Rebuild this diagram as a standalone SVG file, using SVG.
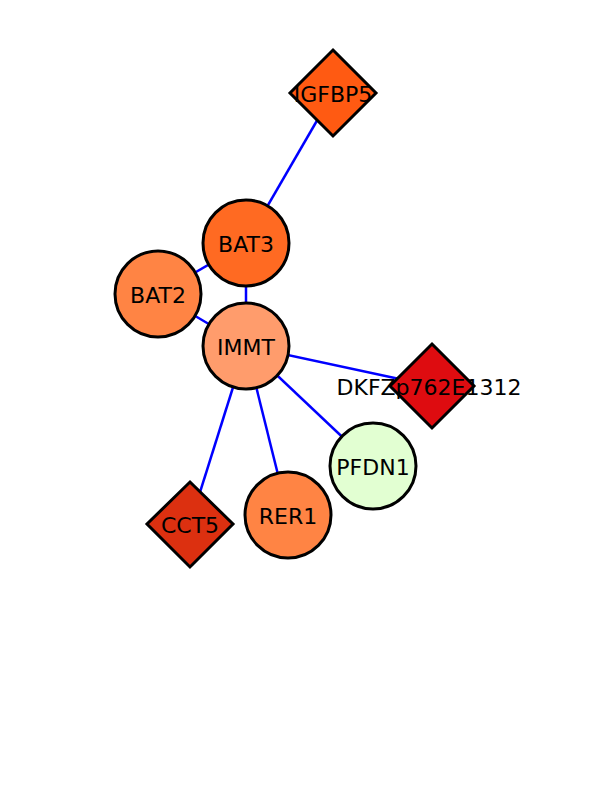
<svg xmlns="http://www.w3.org/2000/svg" width="612" height="792" viewBox="0 0 612 792">
<style>
.e{stroke:#0000FF;stroke-width:2.5;fill:none}
.n{stroke:#000;stroke-width:3}
.t{font-family:"DejaVu Sans",sans-serif;font-size:22px;fill:#000;text-anchor:middle}
</style>
<rect width="612" height="792" fill="#fff"/>
<g id="edges">
<line class="e" x1="333" y1="93" x2="246" y2="243"/>
<line class="e" x1="246" y1="243" x2="158" y2="294"/>
<line class="e" x1="246" y1="243" x2="246" y2="346"/>
<line class="e" x1="158" y1="294" x2="246" y2="346"/>
<line class="e" x1="246" y1="346" x2="432" y2="386"/>
<line class="e" x1="246" y1="346" x2="373" y2="466"/>
<line class="e" x1="246" y1="346" x2="190" y2="524"/>
<line class="e" x1="246" y1="346" x2="288" y2="515"/>
</g>
<g id="IGFBP5"><polygon class="n" fill="#FF5A12" points="333,50 376,93 333,136 290,93"/><text class="t" x="333" y="102">IGFBP5</text></g>
<g id="BAT3"><circle class="n" fill="#FF6A22" cx="246" cy="243" r="43"/><text class="t" x="246" y="252">BAT3</text></g>
<g id="BAT2"><circle class="n" fill="#FF8444" cx="158" cy="294" r="43"/><text class="t" x="158" y="303">BAT2</text></g>
<g id="IMMT"><circle class="n" fill="#FF9C6C" cx="246" cy="346" r="43"/><text class="t" x="246" y="355">IMMT</text></g>
<g id="DKFZp762E1312"><polygon class="n" fill="#DE0C10" points="432,344 474,386 432,428 390,386"/><text class="t" x="429" y="395">DKFZp762E1312</text></g>
<g id="PFDN1"><circle class="n" fill="#E2FFD2" cx="373" cy="466" r="43"/><text class="t" x="373" y="475">PFDN1</text></g>
<g id="CCT5"><polygon class="n" fill="#DC3010" points="190,482 233,524 190,567 147,524"/><text class="t" x="190" y="533">CCT5</text></g>
<g id="RER1"><circle class="n" fill="#FF8444" cx="288" cy="515" r="43"/><text class="t" x="288" y="524">RER1</text></g>
</svg>
